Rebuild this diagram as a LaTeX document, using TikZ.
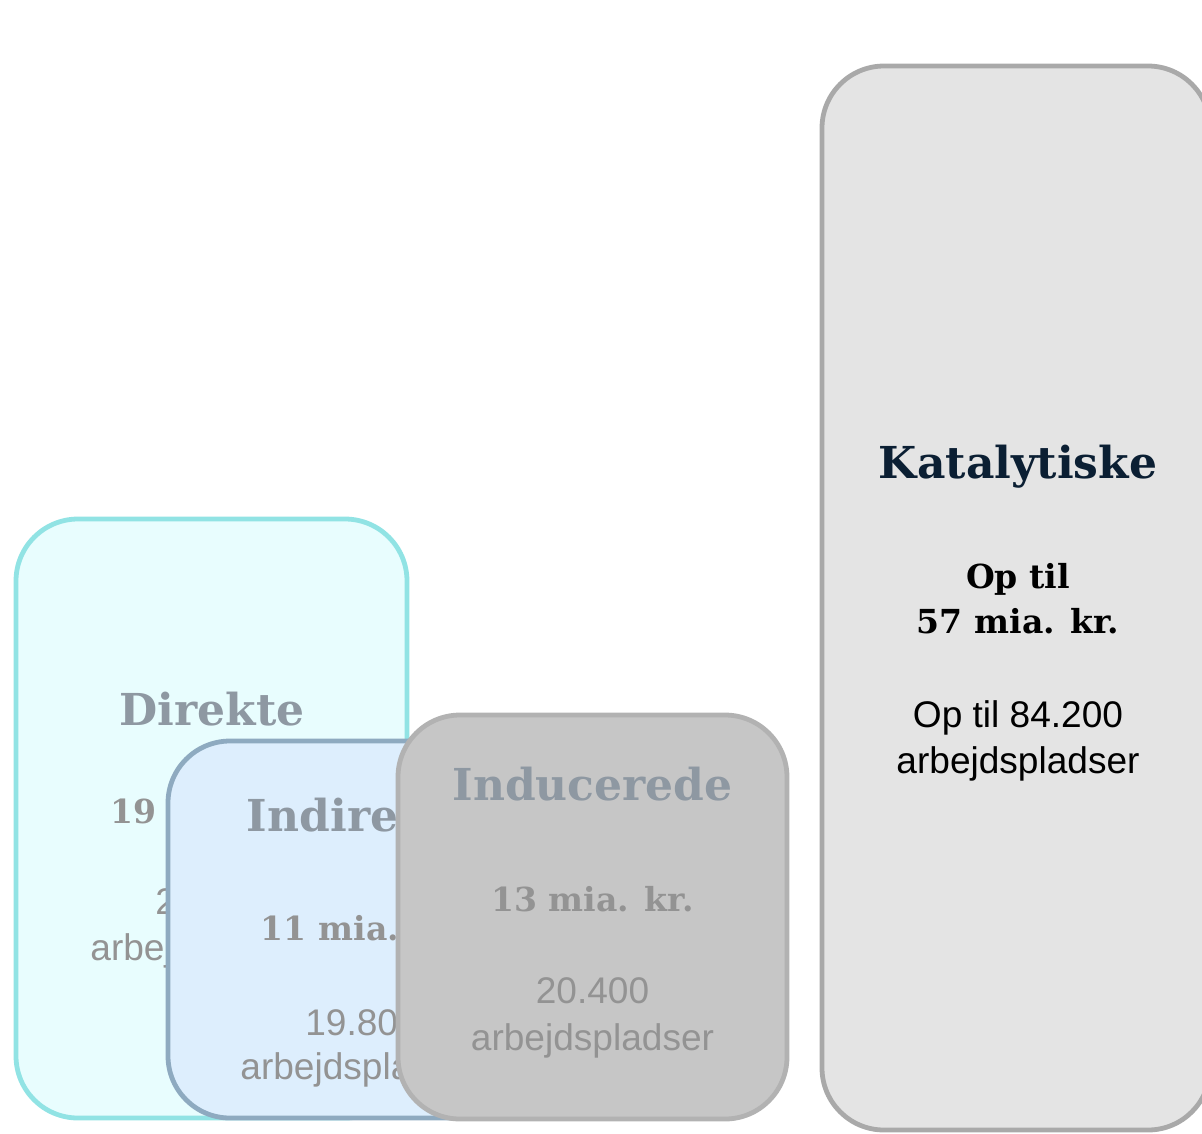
\documentclass[tikz,border=0pt]{standalone}
\usepackage{fontspec}
\newfontfamily\arialish{Liberation Sans}
\newfontfamily\heavyserif{DejaVu Serif}
\definecolor{dirfill}{HTML}{E8FDFE}
\definecolor{dirline}{HTML}{91E3E4}
\definecolor{indfill}{HTML}{DDEEFD}
\definecolor{indline}{HTML}{8EAAC0}
\definecolor{ducfill}{HTML}{C6C6C6}
\definecolor{ducline}{HTML}{B2B2B2}
\definecolor{katfill}{HTML}{E4E4E4}
\definecolor{katline}{HTML}{A9A9A9}
\definecolor{titlegrey}{HTML}{8E98A2}
\definecolor{textgrey}{HTML}{939393}
\definecolor{kattitle}{HTML}{0B1F33}
\begin{document}
\begin{tikzpicture}[x=0.75pt,y=-0.75pt,
  box/.style={draw, line width=3.6pt, rounded corners=46.5pt, rectangle, inner sep=0pt},
  ttl/.style={anchor=base, inner sep=0pt, font=\heavyserif\bfseries\fontsize{33}{38}\selectfont},
  money/.style={anchor=base, inner sep=0pt, font=\heavyserif\bfseries\fontsize{24.8}{29}\selectfont},
  jobs/.style={anchor=base, inner sep=0pt, font=\arialish\fontsize{27.8}{30}\selectfont}]
\useasboundingbox (0,0) rectangle (1202,1133);
% Direkte
\node[box, fill=dirfill, draw=dirline, minimum width=293.25pt, minimum height=449.25pt] (dir) at (211.5,818.5) {};
\node[ttl, text=titlegrey] (dirt) at (212,725) {Direkte};
\node[money, text=textgrey] (dirm) at (212,823) {19 mia. kr.};
\node[jobs, text=textgrey] (dirj1) at (212,914) {22.000};
\node[jobs, text=textgrey] (dirj2) at (212,960) {arbejdspladser};
% Indirekte
\node[box, fill=indfill, draw=indline, minimum width=291pt, minimum height=282.75pt] (ind) at (362,929.5) {};
\node[ttl, text=titlegrey] (indt) at (362,831) {Indirekte};
\node[money, text=textgrey] (indm) at (362,940) {11 mia. kr.};
\node[jobs, text=textgrey] (indj1) at (362,1035) {19.800};
\node[jobs, text=textgrey] (indj2) at (362,1079) {arbejdspladser};
% Inducerede
\node[box, fill=ducfill, draw=ducline, minimum width=291.75pt, minimum height=303pt] (duc) at (592.5,917) {};
\node[ttl, text=titlegrey] (duct) at (592.5,800) {Inducerede};
\node[money, text=textgrey] (ducm) at (592.5,911) {13 mia. kr.};
\node[jobs, text=textgrey] (ducj1) at (592.5,1003) {20.400};
\node[jobs, text=textgrey] (ducj2) at (592.5,1050) {arbejdspladser};
% Katalytiske
\node[box, fill=katfill, draw=katline, minimum width=291pt, minimum height=798pt] (kat) at (1016,598) {};
\node[ttl, text=kattitle] (katt) at (1018,478) {Katalytiske};
\node[money, text=black] (katm1) at (1018,588) {Op til};
\node[money, text=black] (katm2) at (1018,633) {57 mia. kr.};
\node[jobs, text=black] (katj1) at (1018,727) {Op til 84.200};
\node[jobs, text=black] (katj2) at (1018,773) {arbejdspladser};
\end{tikzpicture}
\end{document}
